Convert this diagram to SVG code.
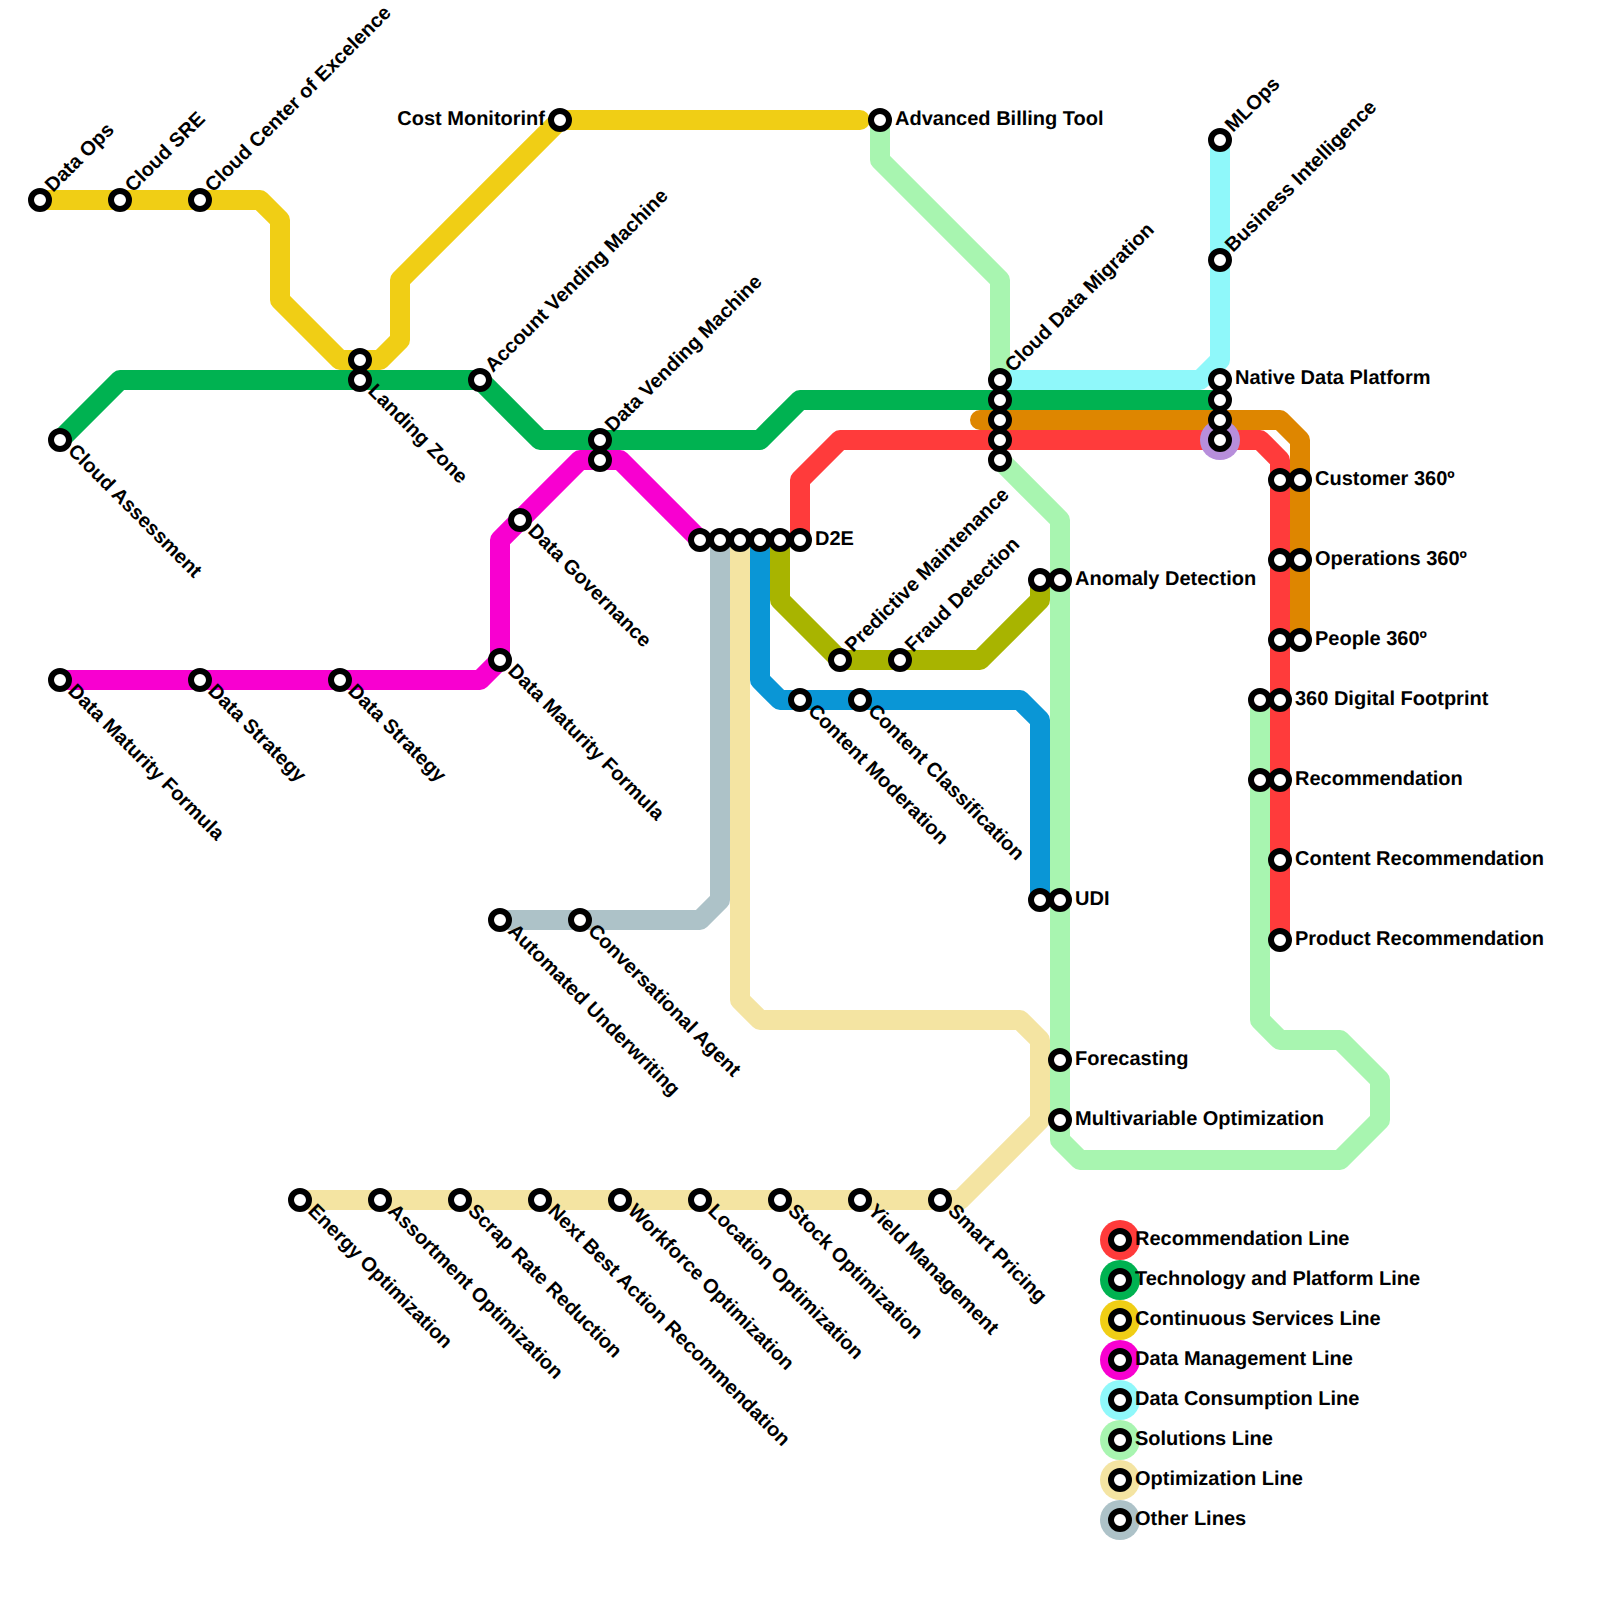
<svg xmlns="http://www.w3.org/2000/svg" width="1600" height="1600" viewBox="0 0 1600 1600">
<style>
text{font-family:"Liberation Sans",Arial,sans-serif;font-size:20px;font-weight:700;fill:#000;text-rendering:geometricPrecision}
.ln{fill:none;stroke-width:20;stroke-linecap:round;stroke-linejoin:round}
.st{fill:#fff;stroke:#000;stroke-width:6}
.e{text-anchor:end}
</style>
<defs><circle id="s" class="st" r="9"/></defs>
<rect width="1600" height="1600" fill="#fff"/>
<g id="connectors">
<path class="ln" stroke="#de8600" d="M980 420H1280L1300 440V640"/>
<path class="ln" stroke="#ff3b3b" d="M800 540V480L840 440H1260L1280 460V940"/>
<path class="ln" stroke="#00b251" d="M60 440L120 380H480L540 440H760L800 400H1220"/>
<path class="ln" stroke="#f0ce15" d="M40 200H260L280 220V300L340 360H380L400 340V280L560 120H860"/>
<path class="ln" stroke="#f800d0" d="M60 680H480L500 660V540L580 460H620L700 540"/>
<path class="ln" stroke="#8ff8fa" d="M1220 140V360L1200 380H1000"/>
<path class="ln" stroke="#a8f5b0" d="M880 120V160L1000 280V380M1000 460L1060 520V1140L1080 1160H1340L1380 1120V1080L1340 1040H1280L1260 1020V700"/>
<path class="ln" stroke="#adc2c8" d="M720 540V900L700 920H500"/>
<path class="ln" stroke="#f4e4a2" d="M740 540V1000L760 1020H1020L1040 1040V1120L960 1200H300"/>
<path class="ln" stroke="#0a96d6" d="M760 540V680L780 700H1020L1040 720V900"/>
<path class="ln" stroke="#a8b400" d="M780 540V600L840 660H980L1040 600V580"/>
</g>
<circle cx="1220" cy="440" r="20" fill="#b78edb"/>
<g id="n-data-ops"><use href="#s" x="40" y="200"/><text transform="translate(53 193) rotate(-45)">Data Ops</text></g>
<g id="n-cloud-sre"><use href="#s" x="120" y="200"/><text transform="translate(133 193) rotate(-45)">Cloud SRE</text></g>
<g id="n-cloud-coe"><use href="#s" x="200" y="200"/><text transform="translate(213 193) rotate(-45)">Cloud Center of Excelence</text></g>
<g id="n-cost"><use href="#s" x="560" y="120"/><text class="e" x="545" y="125">Cost Monitorinf</text></g>
<g id="n-billing"><use href="#s" x="880" y="120"/><text x="895" y="125">Advanced Billing Tool</text></g>
<g id="n-yellow-junction"><use href="#s" x="360" y="360"/></g>
<g id="n-landing"><use href="#s" x="360" y="380"/><text transform="translate(367 392) rotate(45)">Landing Zone</text></g>
<g id="n-account"><use href="#s" x="480" y="380"/><text transform="translate(493 373) rotate(-45)">Account Vending Machine</text></g>
<g id="n-cloud-assess"><use href="#s" x="60" y="440"/><text transform="translate(67 452) rotate(45)">Cloud Assessment</text></g>
<g id="n-data-vending"><use href="#s" x="600" y="440"/><text transform="translate(613 433) rotate(-45)">Data Vending Machine</text></g>
<g id="n-dm-junction"><use href="#s" x="600" y="460"/></g>
<g id="n-governance"><use href="#s" x="520" y="520"/><text transform="translate(527 532) rotate(45)">Data Governance</text></g>
<g id="n-maturity2"><use href="#s" x="500" y="660"/><text transform="translate(507 672) rotate(45)">Data Maturity Formula</text></g>
<g id="n-maturity1"><use href="#s" x="60" y="680"/><text transform="translate(67 692) rotate(45)">Data Maturity Formula</text></g>
<g id="n-strategy1"><use href="#s" x="200" y="680"/><text transform="translate(207 692) rotate(45)">Data Strategy</text></g>
<g id="n-strategy2"><use href="#s" x="340" y="680"/><text transform="translate(347 692) rotate(45)">Data Strategy</text></g>
<g id="n-row1"><use href="#s" x="700" y="540"/></g>
<g id="n-row2"><use href="#s" x="720" y="540"/></g>
<g id="n-row3"><use href="#s" x="740" y="540"/></g>
<g id="n-row4"><use href="#s" x="760" y="540"/></g>
<g id="n-row5"><use href="#s" x="780" y="540"/></g>
<g id="n-d2e"><use href="#s" x="800" y="540"/><text x="815" y="545">D2E</text></g>
<g id="n-predictive"><use href="#s" x="840" y="660"/><text transform="translate(853 653) rotate(-45)">Predictive Maintenance</text></g>
<g id="n-fraud"><use href="#s" x="900" y="660"/><text transform="translate(913 653) rotate(-45)">Fraud Detection</text></g>
<g id="n-moderation"><use href="#s" x="800" y="700"/><text transform="translate(807 712) rotate(45)">Content Moderation</text></g>
<g id="n-classification"><use href="#s" x="860" y="700"/><text transform="translate(867 712) rotate(45)">Content Classification</text></g>
<g id="n-underwriting"><use href="#s" x="500" y="920"/><text transform="translate(507 932) rotate(45)">Automated Underwriting</text></g>
<g id="n-conversational"><use href="#s" x="580" y="920"/><text transform="translate(587 932) rotate(45)">Conversational Agent</text></g>
<g id="n-energy"><use href="#s" x="300" y="1200"/><text transform="translate(307 1212) rotate(45)">Energy Optimization</text></g>
<g id="n-assortment"><use href="#s" x="380" y="1200"/><text transform="translate(387 1212) rotate(45)">Assortment Optimization</text></g>
<g id="n-scrap"><use href="#s" x="460" y="1200"/><text transform="translate(467 1212) rotate(45)">Scrap Rate Reduction</text></g>
<g id="n-nba"><use href="#s" x="540" y="1200"/><text transform="translate(547 1212) rotate(45)">Next Best Action Recommendation</text></g>
<g id="n-workforce"><use href="#s" x="620" y="1200"/><text transform="translate(627 1212) rotate(45)">Workforce Optimization</text></g>
<g id="n-location"><use href="#s" x="700" y="1200"/><text transform="translate(707 1212) rotate(45)">Location Optimization</text></g>
<g id="n-stock"><use href="#s" x="780" y="1200"/><text transform="translate(787 1212) rotate(45)">Stock Optimization</text></g>
<g id="n-yield"><use href="#s" x="860" y="1200"/><text transform="translate(867 1212) rotate(45)">Yield Management</text></g>
<g id="n-pricing"><use href="#s" x="940" y="1200"/><text transform="translate(947 1212) rotate(45)">Smart Pricing</text></g>
<g id="n-migration"><use href="#s" x="1000" y="380"/><text transform="translate(1013 373) rotate(-45)">Cloud Data Migration</text></g>
<g id="n-hub1"><use href="#s" x="1000" y="400"/></g>
<g id="n-hub2"><use href="#s" x="1000" y="420"/></g>
<g id="n-hub3"><use href="#s" x="1000" y="440"/></g>
<g id="n-hub4"><use href="#s" x="1000" y="460"/></g>
<g id="n-mlops"><use href="#s" x="1220" y="140"/><text transform="translate(1233 133) rotate(-45)">MLOps</text></g>
<g id="n-bi"><use href="#s" x="1220" y="260"/><text transform="translate(1233 253) rotate(-45)">Business Intelligence</text></g>
<g id="n-native"><use href="#s" x="1220" y="380"/><text x="1235" y="384">Native Data Platform</text></g>
<g id="n-ndp2"><use href="#s" x="1220" y="400"/></g>
<g id="n-ndp3"><use href="#s" x="1220" y="420"/></g>
<g id="n-ndp4"><use href="#s" x="1220" y="440"/></g>
<g id="n-anomaly"><use href="#s" x="1040" y="580"/><use href="#s" x="1060" y="580"/><text x="1075" y="585">Anomaly Detection</text></g>
<g id="n-udi"><use href="#s" x="1040" y="900"/><use href="#s" x="1060" y="900"/><text x="1075" y="905">UDI</text></g>
<g id="n-forecasting"><use href="#s" x="1060" y="1060"/><text x="1075" y="1065">Forecasting</text></g>
<g id="n-multi"><use href="#s" x="1060" y="1120"/><text x="1075" y="1125">Multivariable Optimization</text></g>
<g id="n-customer"><use href="#s" x="1280" y="480"/><use href="#s" x="1300" y="480"/><text x="1315" y="485">Customer 360º</text></g>
<g id="n-operations"><use href="#s" x="1280" y="560"/><use href="#s" x="1300" y="560"/><text x="1315" y="565">Operations 360º</text></g>
<g id="n-people"><use href="#s" x="1280" y="640"/><use href="#s" x="1300" y="640"/><text x="1315" y="645">People 360º</text></g>
<g id="n-footprint"><use href="#s" x="1260" y="700"/><use href="#s" x="1280" y="700"/><text x="1295" y="705">360 Digital Footprint</text></g>
<g id="n-recommendation"><use href="#s" x="1260" y="780"/><use href="#s" x="1280" y="780"/><text x="1295" y="785">Recommendation</text></g>
<g id="n-content-rec"><use href="#s" x="1280" y="860"/><text x="1295" y="865">Content Recommendation</text></g>
<g id="n-product-rec"><use href="#s" x="1280" y="940"/><text x="1295" y="945">Product Recommendation</text></g>
<g id="legend">
<g id="l1"><circle cx="1120" cy="1240" r="20" fill="#ff3b3b"/><use href="#s" x="1120" y="1240"/><text x="1135" y="1245">Recommendation Line</text></g>
<g id="l2"><circle cx="1120" cy="1280" r="20" fill="#00b251"/><use href="#s" x="1120" y="1280"/><text x="1135" y="1285">Technology and Platform Line</text></g>
<g id="l3"><circle cx="1120" cy="1320" r="20" fill="#f0ce15"/><use href="#s" x="1120" y="1320"/><text x="1135" y="1325">Continuous Services Line</text></g>
<g id="l4"><circle cx="1120" cy="1360" r="20" fill="#f800d0"/><use href="#s" x="1120" y="1360"/><text x="1135" y="1365">Data Management Line</text></g>
<g id="l5"><circle cx="1120" cy="1400" r="20" fill="#8ff8fa"/><use href="#s" x="1120" y="1400"/><text x="1135" y="1405">Data Consumption Line</text></g>
<g id="l6"><circle cx="1120" cy="1440" r="20" fill="#a8f5b0"/><use href="#s" x="1120" y="1440"/><text x="1135" y="1445">Solutions Line</text></g>
<g id="l7"><circle cx="1120" cy="1480" r="20" fill="#f4e4a2"/><use href="#s" x="1120" y="1480"/><text x="1135" y="1485">Optimization Line</text></g>
<g id="l8"><circle cx="1120" cy="1520" r="20" fill="#adc2c8"/><use href="#s" x="1120" y="1520"/><text x="1135" y="1525">Other Lines</text></g>
</g>
</svg>
